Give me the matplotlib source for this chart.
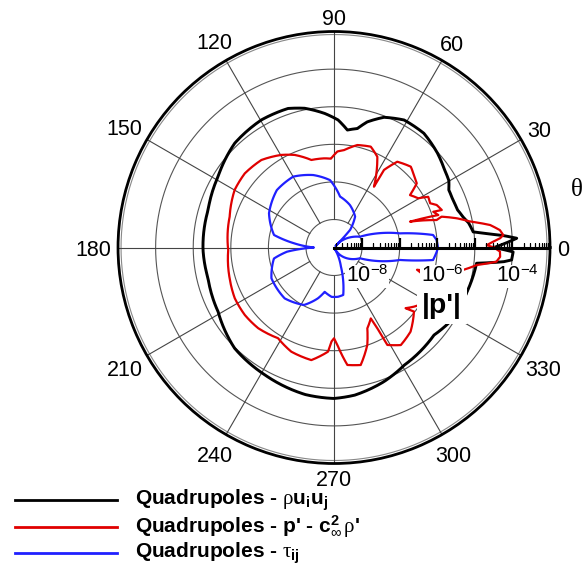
import numpy as np
import matplotlib.pyplot as plt

plt.rcParams['font.family'] = ['Liberation Sans', 'DejaVu Sans']
plt.rcParams['mathtext.fontset'] = 'custom'
plt.rcParams['mathtext.rm'] = 'Liberation Sans'
plt.rcParams['mathtext.it'] = 'Liberation Serif'
plt.rcParams['mathtext.bf'] = 'Liberation Sans:bold'

# directivity |p'| (stored as log10), angle in degrees
black_theta = [0, 1.5, 2.9, 4.0, 4.9, 5.5, 6.4, 8.7, 10.2, 13, 16.9, 21.8, 26.6, 30.2,
               35.2, 42.4, 51.8, 61.2, 69, 75.2, 78.9, 83.5, 88.2, 94, 101.9, 108.3,
               119.7, 133.6, 148.6, 163.4, 181, 193.7, 209, 225.4, 241.5, 259, 270,
               278, 290.5, 300.8, 318.8, 329.5, 341, 353.7, 355.2, 356, 358.6, 360]
black_log = [-4.49, -4.17, -3.88, -4.22, -4.57, -4.76, -5.02, -5.07, -5.10, -5.21, -5.31,
             -5.34, -5.33, -5.21, -5.15, -5.02, -4.88, -4.875, -5.035, -5.29, -5.52, -5.60,
             -5.35, -5.17, -4.96, -4.85, -4.84, -4.915, -5.13, -5.25, -5.26, -5.295, -5.22,
             -4.98, -4.89, -4.76, -4.73, -4.78, -4.94, -5.10, -5.21, -5.05, -5.02, -4.93,
             -4.22, -4.01, -3.98, -4.49]

red_theta = [0, 0.9, 2.1, 3.2, 4.2, 6, 8.2, 10.8, 13.4, 16, 15, 18.8, 17.8, 17.3, 19.8,
             19.2, 22.5, 24.7, 28.3, 30.3, 34.6, 37.8, 39.6, 46.5, 53.6, 57.2, 56.7, 64.5,
             70, 77.2, 84.1, 88, 92, 96, 104.5, 113, 119.7, 129.7, 140.3, 149.9, 163.5,
             181.4, 196.5, 207.1, 217.1, 226.8, 238.3, 247.7, 258.6, 266.7, 268.4, 270,
             272, 276.5, 282.8, 288.9, 292.4, 297.4, 298.2, 298.7, 304.4, 312.3, 321.3,
             319.7, 323.5, 330, 338.5, 345, 348.8, 353, 355, 356.8, 358.6, 360]
red_log = [-4.49, -4.68, -4.51, -4.32, -4.23, -4.31, -4.55, -5.06, -5.39, -5.77, -5.92,
           -6.61, -6.06, -5.84, -5.94, -5.71, -5.79, -5.93, -5.90, -6.15, -6.29, -5.96,
           -5.93, -5.78, -5.91, -6.29, -6.81, -6.07, -5.89, -5.95, -6.14, -6.19, -6.38,
           -6.36, -6.34, -6.07, -5.91, -5.72, -5.66, -5.69, -5.85, -5.93, -5.85, -5.78,
           -5.77, -5.80, -5.91, -5.75, -5.69, -5.97, -6.24, -6.33, -6.15, -5.60, -5.54,
           -6.01, -6.42, -6.62, -6.31, -5.79, -5.60, -5.72, -6.02, -6.25, -6.10, -5.87,
           -5.80, -6.46, -5.42, -4.92, -4.41, -4.32, -4.33, -4.49]

blue_theta = [-60, -51, -22.6, -10.7, -7.2, -2.3, 0, 4.2, 7.2, 12.1, 20.9, 22.6, 36, 44,
              45, 47.6, 55.7, 69.4, 83.3, 93.4, 106, 119.9, 134.9, 152.2, 168.2, 174, 180,
              185.1, 190.4, 206.2, 225.9, 242.4, 252.5, 258.1, 267.3, 274.6, 281, 290, 300]
blue_log = [-8.69, -8.49, -8.00, -6.96, -6.09, -6.01, -5.98, -6.01, -6.09, -6.95, -7.81,
            -8.00, -8.33, -8.53, -8.69, -8.11, -7.75, -7.54, -7.38, -6.95, -6.74, -6.57,
            -6.59, -6.79, -7.115, -7.68, -8.21, -7.49, -7.12, -6.89, -6.86, -7.02, -7.33,
            -7.54, -7.43, -7.43, -7.46, -8.21, -8.69]

labels = ['Quadrupoles - $\\rho\\mathbf{u}_{\\mathbf{i}}\\mathbf{u}_{\\mathbf{j}}$',
          "Quadrupoles - p' - $\\mathbf{c}_{\\infty}^{\\mathbf{2}}\\,\\rho$'",
          'Quadrupoles - $\\tau_{\\mathbf{ij}}$']
colors = ['black', '#e00000', '#2020ff']
widths = [2.1, 1.6, 1.6]

angle_labels = [str(a) for a in range(0, 360, 30)]
radial_exps = [-8, -6, -4]

rmin, rmax = 10 ** -8.745, 1e-3

fig = plt.figure(figsize=(5.86, 5.73), dpi=100)
ax = fig.add_axes([0.2014, 0.1911, 0.7372, 0.7539], projection='polar')
ax.set_rscale('log')
ax.set_rlim(rmin, rmax)
ax.grid(False)
ax.set_yticks([])
ax.yaxis.set_minor_locator(plt.NullLocator())
ax.set_xticks(np.deg2rad(np.arange(0, 360, 30)))
ax.set_xticklabels([])
ax.set_xticks(np.deg2rad(np.arange(0, 360, 6)), minor=True)
ax.tick_params(axis='x', which='major', direction='in', length=5, width=1.6, color='k')
ax.tick_params(axis='x', which='minor', direction='in', length=3, width=0.8, color='k')
ax.spines['polar'].set_linewidth(2)

# grid circles and spokes
tt = np.linspace(0, 2 * np.pi, 721)
for e in range(-8, -3):
    ax.plot(tt, np.full_like(tt, 10.0 ** e), color='#555555', lw=0.8, zorder=1)
ax.plot(tt, np.full_like(tt, 10 ** -3.08), color='#888888', lw=0.8, zorder=1)
for a in range(30, 360, 30):
    ax.plot([np.deg2rad(a)] * 2, [1e-8, rmax], color='#444444', lw=0.8, zorder=1)

# curves (polar transform interpolates each segment)
series = [(black_theta, black_log), (red_theta, red_log), (blue_theta, blue_log)]
for (th, lg), c, w in zip(series, colors, widths):
    ln, = ax.plot(np.deg2rad(th), 10.0 ** np.array(lg), color=c, lw=w, zorder=3,
                  solid_joinstyle='round')
    ln.get_path()._interpolation_steps = 16

# radial axis along theta = 0
ax.plot([0, 0], [rmin, rmax], color='k', lw=2.2, zorder=5)
major = [10.0 ** e for e in range(-8, -2)]
minor = [m * 10.0 ** e for e in range(-9, -3) for m in range(2, 10)
         if rmin < m * 10.0 ** e < rmax]
ax.plot(np.zeros(len(major)), major, ls='none', marker=2, ms=7.5, mew=1.6,
        color='k', zorder=5)
ax.plot(np.zeros(len(minor)), minor, ls='none', marker=2, ms=3.8, mew=0.9,
        color='k', zorder=5)
for e in radial_exps:
    ax.annotate('$10^{%d}$' % e, xy=(0, 10.0 ** e), xytext=(3.6, -21),
                textcoords='offset points', ha='center', va='center', fontsize=15.5,
                bbox=dict(fc='white', ec='none', pad=0.5), zorder=7,
                annotation_clip=False)

# angle labels outside the circle
for lab in angle_labels:
    th = np.deg2rad(int(lab))
    c, s = np.cos(th), np.sin(th)
    dist = 7 + 0.5 * 11.5 * len(lab) * abs(c) + 0.5 * 16 * abs(s)
    ax.annotate(lab, xy=(th, rmax), xytext=(dist * c * 0.72, dist * s * 0.72),
                textcoords='offset points', ha='center', va='center_baseline',
                fontsize=15.5, annotation_clip=False)

fig.text(577 / 586, 1 - 190 / 573, '\u03b8', fontsize=18, family='Liberation Serif',
         ha='center', va='center')
fig.text(442 / 586, 1 - 306 / 573, "|p'|", fontsize=20.5, fontweight='bold',
         ha='center', va='center', bbox=dict(fc='white', ec='none', pad=3.5))

# legend
lax = fig.add_axes([0, 0, 1, 1])
lax.set_xlim(0, 586)
lax.set_ylim(573, 0)
lax.axis('off')
for i, (lab, c) in enumerate(zip(labels, colors)):
    y = 500 + 26.7 * i
    lax.plot([15, 117], [y, y], color=c, lw=2)
    lax.text(135, y, lab, fontsize=15, fontweight='bold', ha='left', va='center')

fig.savefig('out.png', dpi=100)
